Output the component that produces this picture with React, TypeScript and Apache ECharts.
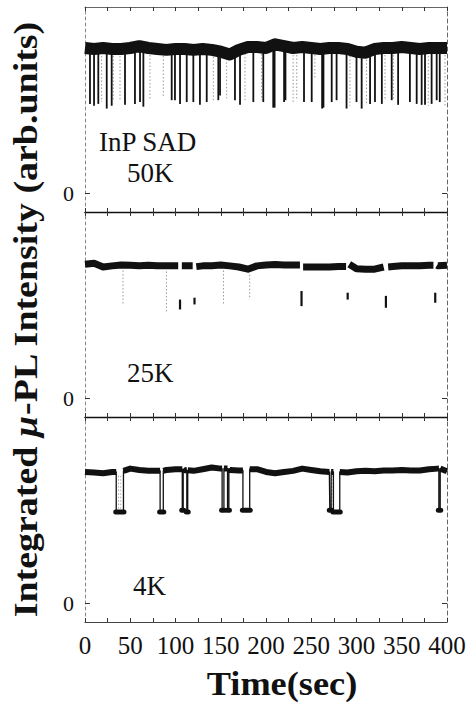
import React, { useEffect, useRef } from "react";
import * as echarts from "echarts";

// Sample times (sec) for the "on" level of each trace
const SAMPLE_TIMES = [0, 10, 20, 30, 40, 50, 60, 70, 80, 90, 100, 110, 120, 130, 140, 150, 160, 170, 180, 190, 200,
  210, 220, 230, 240, 250, 260, 270, 280, 290, 300, 310, 320, 330, 340, 350, 360, 370, 380, 390, 400];

// "On" level of the integrated PL intensity (arb. units)
const BASE_50K = [0.78, 0.775, 0.78, 0.775, 0.775, 0.78, 0.79, 0.78, 0.775, 0.77, 0.775, 0.775, 0.77, 0.775, 0.77,
  0.76, 0.745, 0.77, 0.785, 0.785, 0.78, 0.8, 0.79, 0.78, 0.785, 0.78, 0.775, 0.78, 0.78, 0.775, 0.76, 0.755, 0.775,
  0.78, 0.78, 0.785, 0.78, 0.775, 0.78, 0.78, 0.78];
const BASE_25K = [0.72, 0.725, 0.705, 0.711, 0.716, 0.714, 0.711, 0.714, 0.711, 0.711, 0.711, 0.711, 0.707, 0.711,
  0.712, 0.716, 0.711, 0.705, 0.693, 0.711, 0.716, 0.718, 0.716, 0.716, 0.705, 0.705, 0.705, 0.705, 0.707, 0.72,
  0.696, 0.693, 0.693, 0.705, 0.707, 0.711, 0.712, 0.712, 0.714, 0.711, 0.714];
const BASE_4K = [0.705, 0.702, 0.698, 0.705, 0.711, 0.723, 0.716, 0.711, 0.711, 0.716, 0.72, 0.714, 0.711, 0.72,
  0.729, 0.723, 0.716, 0.713, 0.72, 0.72, 0.705, 0.698, 0.705, 0.711, 0.723, 0.716, 0.709, 0.705, 0.705, 0.702,
  0.709, 0.711, 0.709, 0.713, 0.713, 0.716, 0.713, 0.713, 0.72, 0.723, 0.709];

// 50K: short "off" events [time, lowest intensity]
const DIPS_50K = [[5.5, 0.48], [10, 0.47], [14.7, 0.48], [24, 0.455], [29.5, 0.47], [44.2, 0.475], [55.2, 0.48],
  [60.8, 0.49], [64.5, 0.465], [95.8, 0.5], [99.4, 0.5], [105, 0.48], [112.4, 0.49], [119.7, 0.49], [127, 0.475],
  [134.5, 0.49], [147.3, 0.5], [149.2, 0.525], [165.7, 0.5], [171.3, 0.475], [186, 0.49], [197, 0.49], [208, 0.46],
  [209.5, 0.46], [220, 0.49], [221.5, 0.5], [242, 0.49], [250.5, 0.49], [262, 0.455], [263.5, 0.46], [272.6, 0.49],
  [278, 0.5], [289, 0.455], [300, 0.49], [305.7, 0.455], [315, 0.48], [320.4, 0.49], [328, 0.48], [338.9, 0.5],
  [346, 0.475], [359, 0.49], [366.5, 0.48], [372, 0.475], [375.7, 0.475], [383, 0.48], [388.6, 0.5], [392, 0.49]];
// 50K: very fast transitions, recorded only faintly
const FAINT_50K = [[18.4, 0.49], [31.3, 0.5], [38.7, 0.5], [71.8, 0.5], [86.5, 0.52], [141.8, 0.5], [156.5, 0.51],
  [176.8, 0.5], [195.2, 0.5], [230, 0.48], [234, 0.5], [254, 0.62], [292.8, 0.47], [311, 0.48], [331.5, 0.5],
  [340.7, 0.5], [379.3, 0.47], [397.8, 0.47]];

// 25K: [off start, off end, off level top, off level bottom]
const BLINKS_25K = [[103, 107, 0.53, 0.477], [119, 123, 0.54, 0.504], [237.5, 241, 0.576, 0.495],
  [288.5, 292, 0.567, 0.53], [330, 335, 0.55, 0.486], [385, 389, 0.567, 0.513]];
const FAINT_25K = [[42, 0.5], [90, 0.466], [153, 0.504], [182, 0.53]];

// 4K: [off start, off end, off level]
const OFF_4K = [[34.5, 42.5, 0.49], [83, 86.5, 0.49], [107.5, 108.5, 0.5], [112.5, 113.5, 0.49],
  [151.5, 153.5, 0.5], [157.5, 159, 0.5], [174.5, 182, 0.5], [270.5, 272, 0.5], [274.5, 281.5, 0.49],
  [391, 392.5, 0.5]];
const FAINT_4K = [[37, 0.5], [39.5, 0.5], [273, 0.5]];

const PANEL_LABELS = ["50K", "25K", "4K"];
const SAMPLE_NAME = "InP SAD";
const X_TITLE = "Time(sec)";

const SERIF = "Liberation Serif";
const INK = "#111";

// level held from the last sample at or before t
function hold(base: number[], t: number): number {
  let v = base[0];
  for (let i = 0; i < SAMPLE_TIMES.length; i++) {
    if (SAMPLE_TIMES[i] <= t) v = base[i];
  }
  return v;
}

// on-level trace with "off" intervals; low === null leaves a gap in the line
function buildTrace(base: number[], events: { start: number; end: number; low: number | null }[]) {
  const pts: (number | null)[][] = [];
  const sorted = [...events].sort((a, b) => a.start - b.start);
  let e = 0;
  for (let i = 0; i < SAMPLE_TIMES.length; i++) {
    const t = SAMPLE_TIMES[i];
    while (e < sorted.length && sorted[e].start <= t) {
      const ev = sorted[e];
      pts.push([ev.start, hold(base, ev.start)]);
      if (ev.low === null) {
        pts.push([(ev.start + ev.end) / 2, null]);
      } else {
        pts.push([ev.start, ev.low]);
        pts.push([ev.end, ev.low]);
      }
      pts.push([ev.end, hold(base, ev.end)]);
      e++;
    }
    const inside = sorted.some((ev) => t > ev.start && t < ev.end);
    const lastEnd = pts.length ? (pts[pts.length - 1][0] as number) : -1;
    if (!inside && t > lastEnd) pts.push([t, base[i]]);
  }
  return pts;
}

// vertical segments: [time, from, to]
function vSegSeries(gridIdx: number, data: number[][], color: string, width: number, dash?: number[]) {
  return {
    type: "custom",
    coordinateSystem: "cartesian2d",
    xAxisIndex: gridIdx,
    yAxisIndex: gridIdx,
    data,
    encode: { x: 0, y: [1, 2] },
    silent: true,
    renderItem: (_p: any, api: any) => {
      const a = api.coord([api.value(0), api.value(1)]);
      const b = api.coord([api.value(0), api.value(2)]);
      return {
        type: "line",
        shape: { x1: a[0], y1: a[1], x2: b[0], y2: b[1] },
        style: { stroke: color, lineWidth: width, lineDash: dash },
      };
    },
  };
}

// horizontal segments: [start, end, level]
function hSegSeries(gridIdx: number, data: number[][], color: string, width: number) {
  return {
    type: "custom",
    coordinateSystem: "cartesian2d",
    xAxisIndex: gridIdx,
    yAxisIndex: gridIdx,
    data,
    encode: { x: [0, 1], y: 2 },
    silent: true,
    renderItem: (_p: any, api: any) => {
      const a = api.coord([api.value(0), api.value(2)]);
      const b = api.coord([api.value(1), api.value(2)]);
      return {
        type: "line",
        shape: { x1: a[0] - 0.5, y1: a[1], x2: b[0] + 0.5, y2: b[1] },
        style: { stroke: color, lineWidth: width, lineCap: "round" },
      };
    },
  };
}

function bandSeries(gridIdx: number, data: any[], width: number) {
  return {
    type: "line",
    xAxisIndex: gridIdx,
    yAxisIndex: gridIdx,
    data,
    showSymbol: false,
    symbol: "none",
    connectNulls: false,
    silent: true,
    lineStyle: { color: INK, width, join: "round", cap: "butt" },
  };
}

export default function App() {
  const ref = useRef<HTMLDivElement>(null);

  useEffect(() => {
    if (!ref.current) return;
    const chart = echarts.init(ref.current, undefined, { renderer: "svg" });

    const grids = [
      { left: 85, right: 22, top: 7, height: 205 },
      { left: 85, right: 22, top: 212, height: 205 },
      { left: 85, right: 22, top: 417, height: 205 },
    ];

    const tickStyle = { show: true, inside: true, length: 4, lineStyle: { color: "#333", width: 1 } };

    const bottomX = grids.map((_g, i) => ({
      type: "value",
      gridIndex: i,
      position: "bottom",
      min: 0,
      max: 400,
      interval: 25,
      axisLine: { show: true, onZero: false, lineStyle: { color: i === 2 ? "#444" : "#111", width: i === 2 ? 1 : 1.3 } },
      axisTick: tickStyle,
      splitLine: { show: false },
      axisLabel: {
        show: i === 2,
        margin: 11,
        fontFamily: SERIF,
        fontSize: 25,
        color: INK,
        formatter: (v: number) => (v % 50 === 0 ? String(v) : ""),
      },
    }));
    const topX = grids.map((_g, i) => ({
      type: "value",
      gridIndex: i,
      position: "top",
      min: 0,
      max: 400,
      interval: 25,
      axisLine: { show: true, onZero: false, lineStyle: { color: i === 0 ? "#666" : "#111", width: 1 } },
      axisTick: tickStyle,
      splitLine: { show: false },
      axisLabel: { show: false },
    }));

    const leftY = grids.map((_g, i) => ({
      type: "value",
      gridIndex: i,
      position: "left",
      min: -0.1,
      max: 1.0,
      interval: 0.1,
      axisLine: { show: true, onZero: false, lineStyle: { color: "#888", width: 1, type: [3, 3] } },
      axisTick: { show: true, inside: true, length: 5, customValues: [0], lineStyle: { color: "#333" } },
      axisLabel: {
        show: true,
        customValues: [0],
        margin: 11,
        fontFamily: SERIF,
        fontSize: 22,
        color: INK,
        formatter: () => "0",
      },
      splitLine: { show: false },
    }));
    const rightY = grids.map((_g, i) => ({
      type: "value",
      gridIndex: i,
      position: "right",
      min: -0.1,
      max: 1.0,
      interval: 0.1,
      axisLine: { show: true, onZero: false, lineStyle: { color: "#666", width: 1, type: [4, 3] } },
      axisTick: { show: true, inside: true, length: 5, customValues: [0], lineStyle: { color: "#333" } },
      axisLabel: { show: false },
      splitLine: { show: false },
    }));

    // 50K trace: thick noisy band with frequent dark spikes down
    const dips50 = DIPS_50K.map(([t, low]) => [t, hold(BASE_50K, t), low]);
    const faint50 = FAINT_50K.map(([t, low]) => [t, hold(BASE_50K, t), low]);
    const band50 = SAMPLE_TIMES.map((t, i) => [t, BASE_50K[i]]);

    // 25K trace: gaps in the band with short dashes at the off level
    const band25 = buildTrace(
      BASE_25K,
      BLINKS_25K.map(([s, e]) => ({ start: s, end: e, low: null }))
    );
    const dashes25 = BLINKS_25K.map(([s, e, top, bottom]) => [(s + e) / 2, top, bottom]);
    const faint25 = FAINT_25K.map(([t, low]) => [t, hold(BASE_25K, t) - 0.03, low]);

    // 4K trace: longer off periods
    const thin4 = buildTrace(
      BASE_4K,
      OFF_4K.map(([s, e, low]) => ({ start: s, end: e, low }))
    );
    const band4 = buildTrace(
      BASE_4K,
      OFF_4K.map(([s, e]) => ({ start: s, end: e, low: null }))
    );
    const faint4 = FAINT_4K.map(([t, low]) => [t, hold(BASE_4K, t) - 0.02, low]);

    const labelStyle = (text: string) => ({
      text,
      align: "left",
      verticalAlign: "middle",
      fill: INK,
      fontFamily: SERIF,
      fontSize: 27,
    });

    const option: any = {
      animation: false,
      backgroundColor: "#ffffff",
      grid: grids,
      xAxis: [...bottomX, ...topX],
      yAxis: [...leftY, ...rightY],
      series: [
        vSegSeries(0, faint50, "#999", 1, [1.5, 2]),
        vSegSeries(0, dips50, INK, 1.8),
        bandSeries(0, band50, 12),
        vSegSeries(1, faint25, "#999", 1, [1.5, 2]),
        bandSeries(1, band25, 7),
        vSegSeries(1, dashes25, INK, 2.2),
        vSegSeries(2, faint4, "#aaa", 1, [1.5, 2]),
        bandSeries(2, thin4, 1.3),
        bandSeries(2, band4, 6),
        hSegSeries(2, OFF_4K, INK, 5),
      ],
      graphic: [
        {
          type: "text",
          x: 26,
          y: 319,
          rotation: Math.PI / 2,
          scaleX: 1.15,
          silent: true,
          style: {
            text: "{r|Integrated }{m|μ}{r|-PL Intensity (arb.units)}",
            align: "center",
            verticalAlign: "middle",
            fill: INK,
            rich: {
              r: { fontFamily: SERIF, fontSize: 33, fontWeight: "bold", fill: INK },
              m: { fontFamily: SERIF, fontSize: 33, fontWeight: "bold", fontStyle: "italic", fill: INK },
            },
          },
        },
        {
          type: "text",
          x: 282,
          y: 684,
          scaleX: 1.1,
          silent: true,
          style: {
            text: X_TITLE,
            align: "center",
            verticalAlign: "middle",
            fill: INK,
            fontFamily: SERIF,
            fontSize: 33,
            fontWeight: "bold",
          },
        },
        { type: "text", x: 99, y: 142, silent: true, style: labelStyle(SAMPLE_NAME) },
        { type: "text", x: 127, y: 173, silent: true, style: labelStyle(PANEL_LABELS[0]) },
        { type: "text", x: 127, y: 373, silent: true, style: labelStyle(PANEL_LABELS[1]) },
        { type: "text", x: 133, y: 586, silent: true, style: labelStyle(PANEL_LABELS[2]) },
      ],
    };

    chart.setOption(option);
    return () => chart.dispose();
  }, []);

  return (
    <div
      ref={ref}
      style={{ position: "fixed", left: 0, top: 0, width: 469, height: 704, background: "#fff" }}
    />
  );
}
